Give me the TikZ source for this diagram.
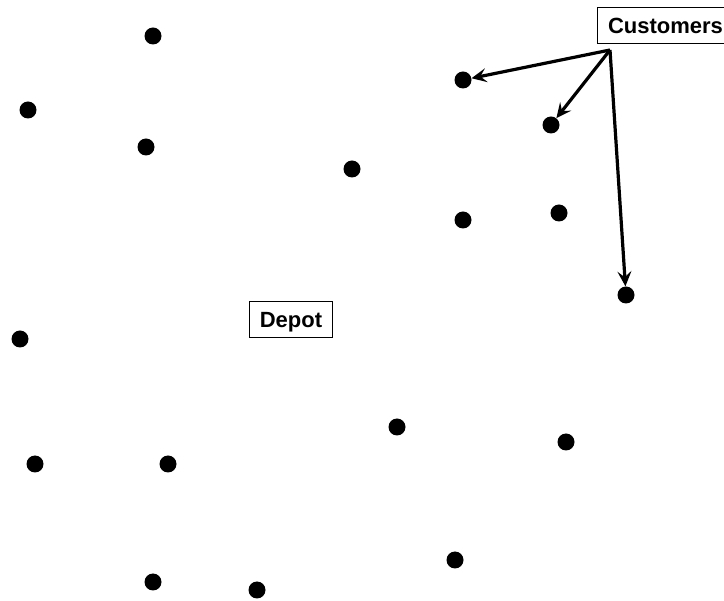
\documentclass[tikz,border=0pt]{standalone}
\usepackage{fontspec}
\setmainfont{Liberation Sans}
\usetikzlibrary{arrows.meta}
\begin{document}
\begin{tikzpicture}[x=1pt,y=-1pt,
  dot/.style={circle,fill=black,inner sep=0pt,minimum size=17pt},
  lbl/.style={draw=black,line width=1pt,font=\bfseries\fontsize{22}{24}\selectfont,inner sep=0pt,text height=16pt,text depth=0pt,minimum height=36pt,anchor=west},
  arr/.style={line width=3.2pt,-{Stealth[length=15pt,width=14pt,inset=6pt]}}]
\useasboundingbox (0,0) rectangle (724,601);
\node[dot] (d1) at (153,36) {};
\node[dot] (d2) at (28,110) {};
\node[dot] (d3) at (146,147) {};
\node[dot] (d4) at (352,169) {};
\node[dot] (d5) at (463,80) {};
\node[dot] (d6) at (551,125) {};
\node[dot] (d7) at (463,220) {};
\node[dot] (d8) at (559,213) {};
\node[dot] (d9) at (626,295) {};
\node[dot] (d10) at (20,339) {};
\node[dot] (d11) at (397,427) {};
\node[dot] (d12) at (566,442) {};
\node[dot] (d13) at (35,464) {};
\node[dot] (d14) at (168,464) {};
\node[dot] (d15) at (153,582) {};
\node[dot] (d16) at (257,590) {};
\node[dot] (d17) at (455,560) {};
\node[lbl,minimum width=136pt] (cust) at (597,25.5) {Customers};
\node[lbl,minimum width=83pt] (depot) at (249,320) {Depot};
\coordinate (src) at (610,50);
\draw[arr] (src) -- (d5);
\draw[arr] (src) -- (d6);
\draw[arr] (src) -- (d9);
\end{tikzpicture}
\end{document}
